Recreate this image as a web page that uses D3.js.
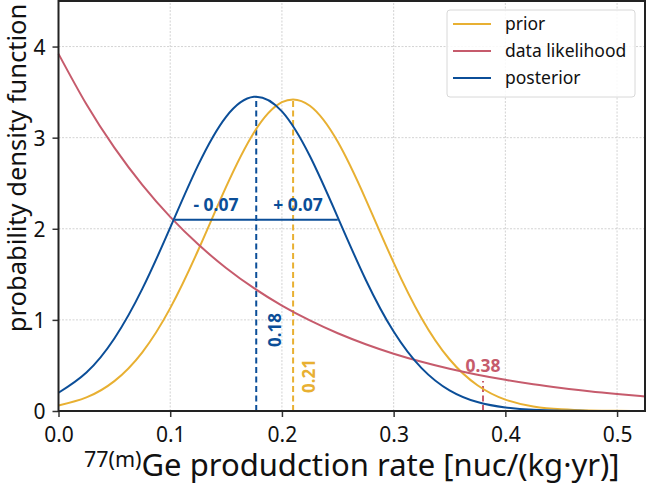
<!doctype html>
<html>
<head>
<style>
  body { margin: 0; background: #fff; }
  text { font-family: "Noto Sans", "Open Sans", sans-serif; }
</style>
<script src="https://d3js.org/d3.v7.min.js"></script>
</head>
<body>
<svg id="chart" width="646" height="485"></svg>
<script>
// values
var xs = [0, 0.025, 0.05, 0.075, 0.1, 0.125, 0.15, 0.175, 0.2, 0.225, 0.25, 0.275, 0.3,
          0.325, 0.35, 0.375, 0.4, 0.425, 0.45, 0.475, 0.5, 0.525];
var prior = [0.06, 0.149, 0.328, 0.644, 1.129, 1.764, 2.459, 3.057, 3.389, 3.35, 2.954, 2.323, 1.629,
             1.019, 0.568, 0.283, 0.125, 0.05, 0.018, 0.0055, 0.0015, 0.0004];
var likelihood = [3.92, 3.366, 2.89, 2.481, 2.13, 1.829, 1.57, 1.348, 1.157, 0.994, 0.853, 0.733, 0.629,
                  0.54, 0.463, 0.398, 0.342, 0.293, 0.252, 0.216, 0.186, 0.159];
var posterior = [0.2, 0.422, 0.796, 1.34, 2.012, 2.698, 3.229, 3.449, 3.288, 2.798, 2.125, 1.441, 0.872,
                 0.471, 0.227, 0.098, 0.038, 0.013, 0.004, 0.001, 0.0003, 0.0001];
var seriesNames = ["prior", "data likelihood", "posterior"];
var colors = ["#e8b032", "#c65b6c", "#0b4e98"];
var xTicks = [0, 0.1, 0.2, 0.3, 0.4, 0.5];
var yTicks = [0, 1, 2, 3, 4];
// markers: posterior mode, prior mode, likelihood mark, interval
var posteriorPeak = [0.177, 3.45];
var priorPeak = [0.21, 3.42];
var likeMark = [0.38, 0.33];
var interval = [0.104, 0.25, 2.1];

var svg = d3.select("#chart");
var margin = {left: 58.5, right: 1, top: 1, bottom: 74};
var W = 646, H = 485;

var x = d3.scaleLinear().domain([0, 0.525]).range([margin.left, W - margin.right]);
var y = d3.scaleLinear().domain([0, 4.5]).range([H - margin.bottom, margin.top]);

// grid
svg.append("g").selectAll("line").data(xTicks.slice(1)).enter().append("line")
  .attr("x1", d => x(d)).attr("x2", d => x(d))
  .attr("y1", y(0)).attr("y2", y(4.5))
  .attr("stroke", "#c8c8c8").attr("stroke-width", 0.8).attr("stroke-dasharray", "2,1.5");
svg.append("g").selectAll("line").data(yTicks.slice(1)).enter().append("line")
  .attr("y1", d => y(d)).attr("y2", d => y(d))
  .attr("x1", x(0)).attr("x2", x(0.525))
  .attr("stroke", "#c8c8c8").attr("stroke-width", 0.8).attr("stroke-dasharray", "2,1.5");

var line = d3.line().x(d => x(d[0])).y(d => y(d[1])).curve(d3.curveNatural);
var data = [prior, likelihood, posterior];

// dashed markers
svg.append("line").attr("x1", x(posteriorPeak[0])).attr("x2", x(posteriorPeak[0]))
  .attr("y1", y(0)).attr("y2", y(posteriorPeak[1]))
  .attr("stroke", colors[2]).attr("stroke-width", 2).attr("stroke-dasharray", "6,3.5");
svg.append("line").attr("x1", x(priorPeak[0])).attr("x2", x(priorPeak[0]))
  .attr("y1", y(0)).attr("y2", y(priorPeak[1]))
  .attr("stroke", colors[0]).attr("stroke-width", 2).attr("stroke-dasharray", "6,3.5");
svg.append("line").attr("x1", x(likeMark[0])).attr("x2", x(likeMark[0]))
  .attr("y1", y(0)).attr("y2", y(likeMark[1]))
  .attr("stroke", colors[1]).attr("stroke-width", 2).attr("stroke-dasharray", "6,3.5");

// curves
data.forEach(function(s, i) {
  svg.append("path")
    .datum(xs.map((v, j) => [v, s[j]]))
    .attr("d", line)
    .attr("fill", "none")
    .attr("stroke", colors[i])
    .attr("stroke-width", 2);
});

// interval
svg.append("line").attr("x1", x(interval[0])).attr("x2", x(interval[1]))
  .attr("y1", y(interval[2])).attr("y2", y(interval[2]))
  .attr("stroke", colors[2]).attr("stroke-width", 2);
svg.append("text").attr("x", 216).attr("y", 211).attr("text-anchor", "middle")
  .attr("font-size", 17.5).attr("font-weight", "bold").attr("fill", colors[2]).text("- 0.07");
svg.append("text").attr("x", 298).attr("y", 211).attr("text-anchor", "middle")
  .attr("font-size", 17.5).attr("font-weight", "bold").attr("fill", colors[2]).text("+ 0.07");

svg.append("text").attr("transform", "translate(281,330) rotate(-90)").attr("text-anchor", "middle")
  .attr("font-size", 17).attr("font-weight", "bold").attr("fill", colors[2]).text("0.18");
svg.append("text").attr("transform", "translate(315,376) rotate(-90)").attr("text-anchor", "middle")
  .attr("font-size", 17).attr("font-weight", "bold").attr("fill", colors[0]).text("0.21");
svg.append("text").attr("x", x(likeMark[0])).attr("y", 372).attr("text-anchor", "middle")
  .attr("font-size", 17.5).attr("font-weight", "bold").attr("fill", colors[1]).text("0.38");

// axes
var xAxis = svg.append("g").attr("transform", "translate(0," + y(0) + ")")
  .call(d3.axisBottom(x).tickValues(xTicks).tickFormat(d3.format(".1f")).tickSizeOuter(0).tickSize(6));
var yAxis = svg.append("g").attr("transform", "translate(" + x(0) + ",0)")
  .call(d3.axisLeft(y).tickValues(yTicks).tickFormat(d3.format("d")).tickSizeOuter(0).tickSize(6));
[xAxis, yAxis].forEach(function(a) {
  a.attr("font-family", null).attr("font-size", null);
  a.select(".domain").remove();
  a.selectAll("line").attr("stroke", "#333").attr("stroke-width", 1.5);
  a.selectAll("text").attr("font-size", 21).attr("fill", "#111");
});
xAxis.selectAll("text").attr("dy", null).attr("y", 31);
yAxis.selectAll("text").attr("x", -13).attr("dy", "0.36em");

// frame
svg.append("rect").attr("x", x(0)).attr("y", y(4.5))
  .attr("width", x(0.525) - x(0)).attr("height", y(0) - y(4.5))
  .attr("fill", "none").attr("stroke", "#222").attr("stroke-width", 2);

// axis titles
svg.append("text").attr("transform", "translate(26,168) rotate(-90)")
  .attr("text-anchor", "middle").attr("font-size", 25.5).attr("fill", "#111")
  .text("probability density function");
var xl = svg.append("text").attr("x", (x(0) + x(0.525)) / 2).attr("y", 476)
  .attr("text-anchor", "middle").attr("font-size", 31).attr("fill", "#111");
xl.append("tspan").attr("font-size", 21.5).attr("dy", -9).text("77(m)");
xl.append("tspan").attr("dy", 9).text("Ge produdction rate [nuc/(kg\u00b7yr)]");

// legend
var lg = svg.append("g").attr("transform", "translate(447,10)");
lg.append("rect").attr("width", 188).attr("height", 87).attr("rx", 3)
  .attr("fill", "#fff").attr("fill-opacity", 0.85).attr("stroke", "#d8d8d8");
seriesNames.forEach(function(n, i) {
  var yy = 14 + i * 27;
  lg.append("line").attr("x1", 6).attr("x2", 44).attr("y1", yy).attr("y2", yy)
    .attr("stroke", colors[i]).attr("stroke-width", 2);
  lg.append("text").attr("x", 58).attr("y", yy).attr("dy", "0.35em")
    .attr("font-size", 17.5).attr("fill", "#111").text(n);
});
</script>
</body>
</html>
